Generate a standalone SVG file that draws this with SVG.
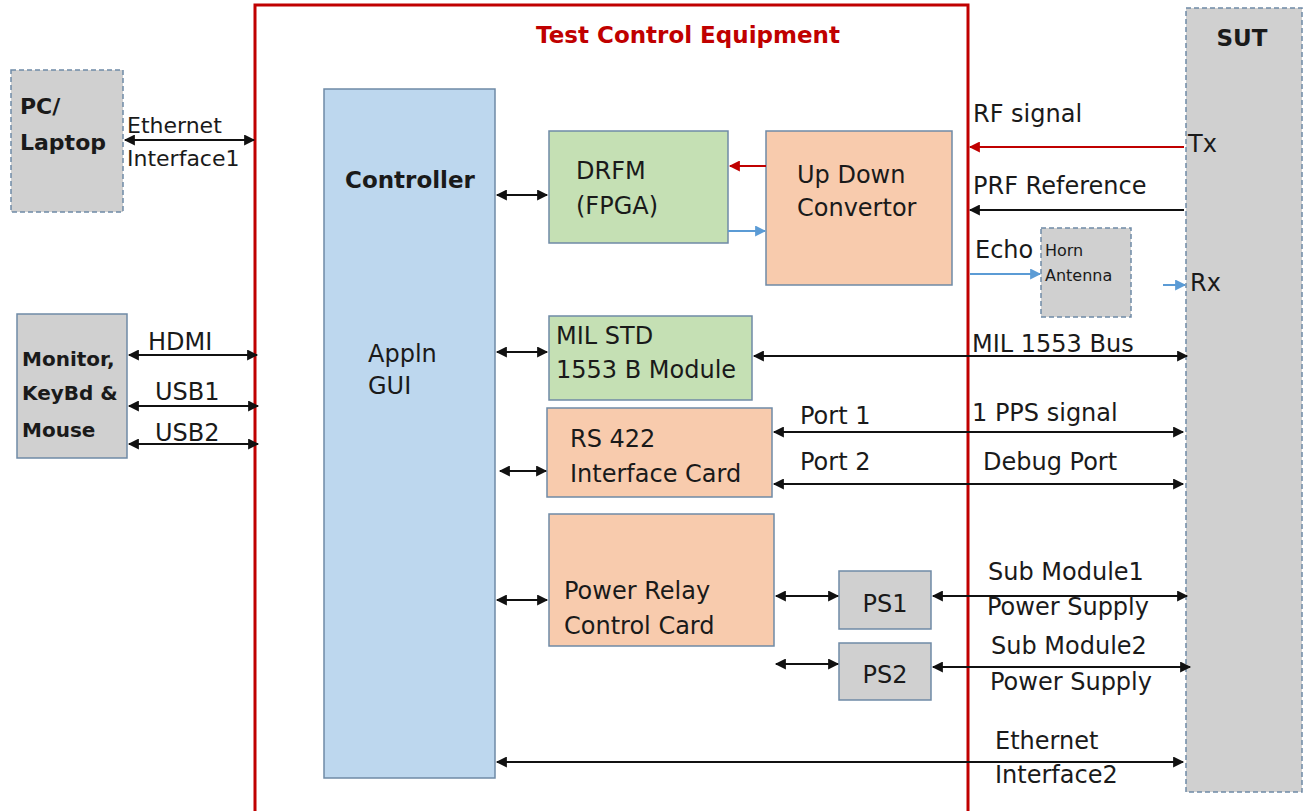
<svg xmlns="http://www.w3.org/2000/svg" width="1305" height="811" viewBox="0 0 1305 811">
<style>
text{font-family:"DejaVu Sans","Liberation Sans",sans-serif;fill:#1a1a1a;font-size:24px}
.b{font-weight:bold}
.gray{fill:#d0d0d0;stroke:#6f8aa6;stroke-width:1.5}
.dash{stroke-dasharray:5 3}
.green{fill:#c5e0b4;stroke:#6f8aa6;stroke-width:1.5}
.peach{fill:#f8cbad;stroke:#6f8aa6;stroke-width:1.5}
.blue{fill:#bdd7ee;stroke:#6f8aa6;stroke-width:1.5}
.ln{stroke:#111;stroke-width:2;fill:none}
.bi{marker-start:url(#ah);marker-end:url(#ah)}
.one{marker-end:url(#ah)}
.red{stroke:#c00000;stroke-width:2;fill:none;marker-end:url(#ar)}
.bl{stroke:#5b9bd5;stroke-width:2;fill:none;marker-end:url(#ab)}
</style>
<defs>
<marker id="ah" viewBox="0 0 10 10" refX="9" refY="5" markerWidth="13" markerHeight="11" markerUnits="userSpaceOnUse" orient="auto-start-reverse"><path d="M0,0 L10,5 L0,10 z" fill="#111"/></marker>
<marker id="ar" viewBox="0 0 10 10" refX="9" refY="5" markerWidth="13" markerHeight="11" markerUnits="userSpaceOnUse" orient="auto"><path d="M0,0 L10,5 L0,10 z" fill="#c00000"/></marker>
<marker id="ab" viewBox="0 0 10 10" refX="9" refY="5" markerWidth="13" markerHeight="11" markerUnits="userSpaceOnUse" orient="auto"><path d="M0,0 L10,5 L0,10 z" fill="#5b9bd5"/></marker>
</defs>
<rect width="1305" height="811" fill="#fff"/>

<g id="tce">
<rect x="255" y="5" width="713" height="810" fill="none" stroke="#c00000" stroke-width="3"/>
<text x="688" y="43" text-anchor="middle" class="b" style="fill:#c00000;font-size:23px">Test Control Equipment</text>
</g>

<g id="sut">
<rect x="1186" y="8" width="116" height="784" class="gray dash"/>
<text x="1242" y="46" text-anchor="middle" class="b" style="font-size:23px">SUT</text>
<text x="1188" y="152">Tx</text>
<text x="1190" y="291">Rx</text>
</g>

<g id="pc">
<rect x="11" y="70" width="112" height="142" class="gray dash"/>
<text x="20" y="114" class="b" style="font-size:22px">PC/</text>
<text x="20" y="150" class="b" style="font-size:22px">Laptop</text>
</g>

<g id="monitor">
<rect x="17" y="314" width="110" height="144" class="gray"/>
<text x="22" y="366" class="b" style="font-size:20px">Monitor,</text>
<text x="22" y="400" class="b" style="font-size:20px">KeyBd &amp;</text>
<text x="22" y="437" class="b" style="font-size:20px">Mouse</text>
</g>

<g id="controller">
<rect x="324" y="89" width="171" height="689" class="blue"/>
<text x="345" y="188" class="b" style="font-size:23px">Controller</text>
<text x="368" y="362">Appln</text>
<text x="368" y="394">GUI</text>
</g>

<g id="drfm">
<rect x="549" y="131" width="179" height="112" class="green"/>
<text x="576" y="179">DRFM</text>
<text x="576" y="214">(FPGA)</text>
</g>

<g id="udc">
<rect x="766" y="131" width="186" height="154" class="peach"/>
<text x="797" y="183">Up Down</text>
<text x="797" y="216">Convertor</text>
</g>

<g id="horn">
<rect x="1041" y="228" width="90" height="89" class="gray dash"/>
<text x="1045" y="256" style="font-size:16px">Horn</text>
<text x="1045" y="281" style="font-size:16px">Antenna</text>
</g>

<g id="mil">
<rect x="549" y="316" width="203" height="84" class="green"/>
<text x="556" y="344">MIL STD</text>
<text x="556" y="378">1553 B Module</text>
</g>

<g id="rs422">
<rect x="547" y="408" width="225" height="89" class="peach"/>
<text x="570" y="447">RS 422</text>
<text x="570" y="482">Interface Card</text>
</g>

<g id="prcc">
<rect x="549" y="514" width="225" height="132" class="peach"/>
<text x="564" y="599">Power Relay</text>
<text x="564" y="634">Control Card</text>
</g>

<g id="ps1">
<rect x="839" y="571" width="92" height="58" class="gray"/>
<text x="885" y="612" text-anchor="middle">PS1</text>
</g>

<g id="ps2">
<rect x="839" y="643" width="92" height="57" class="gray"/>
<text x="885" y="683" text-anchor="middle">PS2</text>
</g>

<g id="connectors">
<line x1="125" y1="140" x2="254" y2="140" class="ln bi"/>
<line x1="129" y1="355" x2="257" y2="355" class="ln bi"/>
<line x1="129" y1="406" x2="258" y2="406" class="ln bi"/>
<line x1="129" y1="444" x2="258" y2="444" class="ln bi"/>
<line x1="497" y1="195" x2="547" y2="195" class="ln bi"/>
<line x1="766" y1="166" x2="730" y2="166" class="red"/>
<line x1="728" y1="231" x2="765" y2="231" class="bl"/>
<line x1="1184" y1="147" x2="970" y2="147" class="red"/>
<line x1="1184" y1="210" x2="970" y2="210" class="ln one"/>
<line x1="970" y1="274" x2="1040" y2="274" class="bl"/>
<line x1="1163" y1="285" x2="1185" y2="285" class="bl"/>
<line x1="497" y1="352" x2="547" y2="352" class="ln bi"/>
<line x1="754" y1="356" x2="1187" y2="356" class="ln bi"/>
<line x1="500" y1="471" x2="546" y2="471" class="ln bi"/>
<line x1="774" y1="432" x2="1183" y2="432" class="ln bi"/>
<line x1="774" y1="484" x2="1183" y2="484" class="ln bi"/>
<line x1="497" y1="600" x2="547" y2="600" class="ln bi"/>
<line x1="776" y1="596" x2="838" y2="596" class="ln bi"/>
<line x1="776" y1="664" x2="838" y2="664" class="ln bi"/>
<line x1="933" y1="596" x2="1187" y2="596" class="ln bi"/>
<line x1="933" y1="667" x2="1190" y2="667" class="ln bi"/>
<line x1="497" y1="762" x2="1183" y2="762" class="ln bi"/>
</g>

<g id="labels">
<text x="127" y="133" style="font-size:22px">Ethernet</text>
<text x="127" y="166" style="font-size:22px">Interface1</text>
<text x="148" y="350">HDMI</text>
<text x="155" y="400">USB1</text>
<text x="155" y="441">USB2</text>
<text x="973" y="122">RF signal</text>
<text x="973" y="194">PRF Reference</text>
<text x="975" y="258">Echo</text>
<text x="972" y="352">MIL 1553  Bus</text>
<text x="800" y="424">Port 1</text>
<text x="972" y="421">1 PPS signal</text>
<text x="800" y="470">Port 2</text>
<text x="983" y="470">Debug Port</text>
<text x="988" y="580">Sub Module1</text>
<text x="987" y="615">Power Supply</text>
<text x="991" y="654">Sub Module2</text>
<text x="990" y="690">Power Supply</text>
<text x="995" y="749">Ethernet</text>
<text x="995" y="783">Interface2</text>
</g>
</svg>
